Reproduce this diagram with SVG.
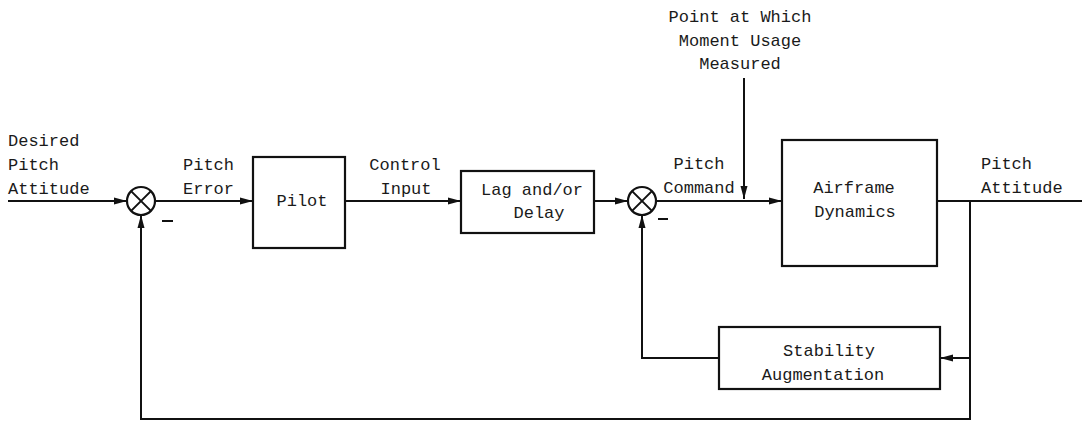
<svg xmlns="http://www.w3.org/2000/svg" width="1082" height="421" viewBox="0 0 1082 421">
<style>
text{font-family:"Liberation Mono","DejaVu Sans Mono",monospace;font-size:17px;fill:#1a1a1a}
.c{text-anchor:middle}
.box{fill:none;stroke:#111;stroke-width:2.2}
.ln{fill:none;stroke:#111;stroke-width:2}
</style>
<defs>
<marker id="ah" markerUnits="userSpaceOnUse" markerWidth="13" markerHeight="8" refX="13" refY="4" orient="auto">
<path d="M0,0.5 L13,4 L0,7.5 z" fill="#111"/>
</marker>
</defs>
<rect width="1082" height="421" fill="#fff"/>
<g id="labels">
<text x="8" y="146">Desired</text>
<text x="8" y="170">Pitch</text>
<text x="8" y="194">Attitude</text>
<text x="183" y="170">Pitch</text>
<text x="183" y="194">Error</text>
<text class="c" x="405" y="170">Control</text>
<text class="c" x="406" y="194">Input</text>
<text class="c" x="699" y="169">Pitch</text>
<text class="c" x="699" y="193">Command</text>
<text class="c" x="740" y="22">Point at Which</text>
<text class="c" x="740" y="46">Moment Usage</text>
<text class="c" x="740" y="69">Measured</text>
<text x="981" y="169">Pitch</text>
<text x="981" y="193">Attitude</text>
</g>
<g id="sum1">
<circle cx="141" cy="201" r="14" class="box"/>
<path d="M131.1,191.1 L150.9,210.9 M150.9,191.1 L131.1,210.9" class="ln"/>
<path d="M162,221 L173,221" class="ln"/>
</g>
<g id="pilot">
<rect x="253" y="157" width="92" height="91" class="box"/>
<text class="c" x="302" y="206">Pilot</text>
</g>
<g id="lag">
<rect x="461" y="171" width="133" height="62" class="box"/>
<text class="c" x="532" y="195">Lag and/or</text>
<text class="c" x="539" y="218">Delay</text>
</g>
<g id="sum2">
<circle cx="642" cy="201" r="14" class="box"/>
<path d="M632.1,191.1 L651.9,210.9 M651.9,191.1 L632.1,210.9" class="ln"/>
<path d="M658,219 L668,219" class="ln"/>
</g>
<g id="airframe">
<rect x="782" y="140" width="155" height="126" class="box"/>
<text class="c" x="854" y="193">Airframe</text>
<text class="c" x="855" y="217">Dynamics</text>
</g>
<g id="stability">
<rect x="719" y="327" width="221" height="62" class="box"/>
<text class="c" x="829" y="356">Stability</text>
<text class="c" x="823" y="380">Augmentation</text>
</g>
<g id="connectors">
<path d="M8,201 L127,201" class="ln" marker-end="url(#ah)"/>
<path d="M155,201 L253,201" class="ln" marker-end="url(#ah)"/>
<path d="M345,201 L461,201" class="ln" marker-end="url(#ah)"/>
<path d="M594,201 L628,201" class="ln" marker-end="url(#ah)"/>
<path d="M656,201 L782,201" class="ln" marker-end="url(#ah)"/>
<path d="M744,78 L744,199" class="ln" marker-end="url(#ah)"/>
<path d="M937,201 L1082,201" class="ln"/>
<path d="M970,201 L970,419 L141,419 L141,215" class="ln" marker-end="url(#ah)"/>
<path d="M970,358 L940,358" class="ln" marker-end="url(#ah)"/>
<path d="M719,358 L642,358 L642,215" class="ln" marker-end="url(#ah)"/>
</g>
</svg>
